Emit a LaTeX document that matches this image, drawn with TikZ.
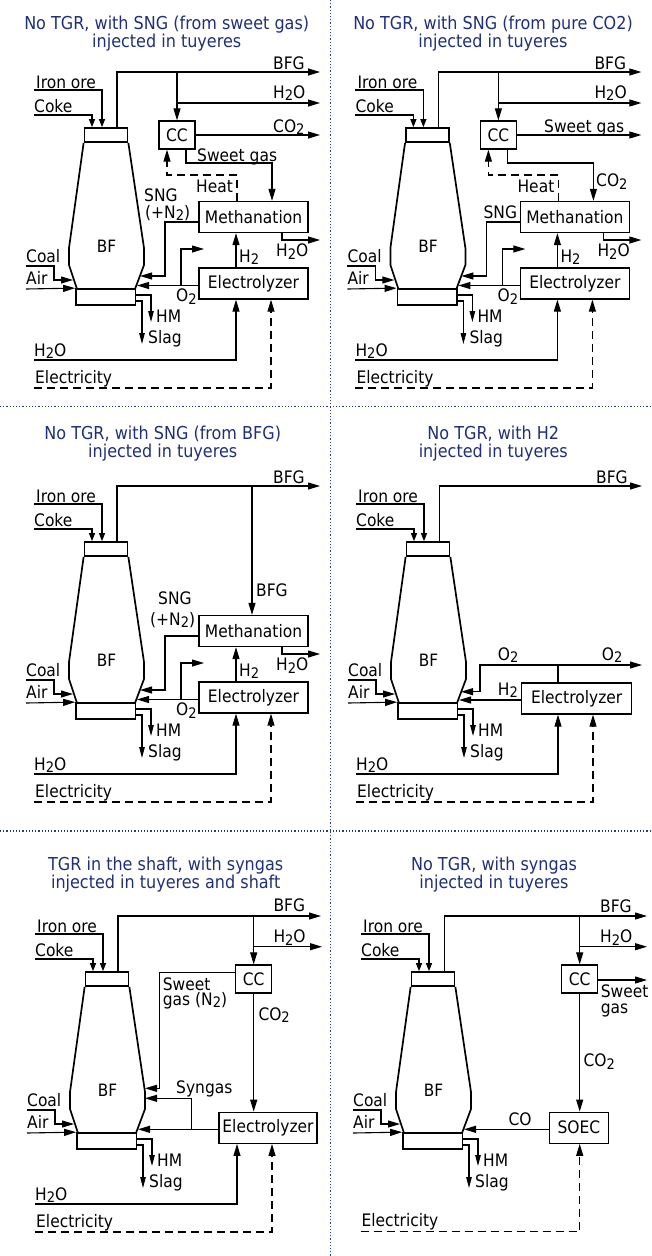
\documentclass[tikz,border=0pt]{standalone}
\usepackage{xcolor}
\usepackage{fontspec}
\setmainfont{DejaVu Sans}[FakeStretch=0.9]
\usetikzlibrary{arrows.meta}
\definecolor{titleblue}{HTML}{1F2F78}
\definecolor{dotblue}{HTML}{2A3A8C}
\tikzset{
    lbl/.style={anchor=base west, inner sep=0pt, font=\fontsize{17.2}{18}\selectfont},
    paneltitle/.style={align=center, inner sep=0pt, text=titleblue, font=\fontsize{17.8}{18}\selectfont},
    unitbox/.style={draw, line width=1.3pt, inner sep=0pt, font=\fontsize{17.2}{18}\selectfont},
    furnacebox/.style={draw, line width=1.7pt, inner sep=0pt},
    flow/.style={line width=1.1pt, -{Triangle[length=12pt,width=7pt]}},
    feed/.style={line width=1.1pt, -{Triangle[length=8pt,width=6pt]}},
    drop/.style={line width=1.1pt, -{Triangle[length=11pt,width=5.5pt]}},
    elecflow/.style={flow, dash pattern=on 8pt off 5pt},
    divider/.style={dotblue, line width=1.2pt, dotted}
}
\newcommand{\subtwo}{\raisebox{-2.5pt}{\fontsize{14.5}{14.5}\selectfont 2}}
\newcommand{\furnace}{%
    \node[furnacebox, minimum width=43pt, minimum height=14pt] (topbox) at (106,135) {};
    \node[furnacebox, minimum width=59.5pt, minimum height=16pt] (hearth) at (105.75,297) {};
    \draw[line width=1.7pt] (topbox.south west) -- (69,248) -- (69,265) -- (77,289);
    \draw[line width=1.7pt] (topbox.south east) -- (144,248) -- (144,265) -- (135,289);
    \node[font=\fontsize{17}{18}\selectfont, inner sep=0pt] (bf) at (106.5,246) {BF};
    \coordinate (orein) at (34,90);
    \coordinate (cokein) at (34,115);
    \coordinate (coalin) at (26,266);
    \coordinate (airin) at (26,289);
    \coordinate (hmout) at (151,322);
    \coordinate (slagout) at (142,344);
    \node[lbl] (orelbl) at (36,88) {Iron ore};
    \node[lbl] (cokelbl) at (34,112) {Coke};
    \node[lbl] (coallbl) at (26,262) {Coal};
    \node[lbl] (airlbl) at (26,284) {Air};
    \node[lbl] (hmlbl) at (156,322.5) {HM};
    \node[lbl] (slaglbl) at (148,343) {Slag};
    \draw[feed] (orein) -| (topbox.north -| 102,0);
    \draw[feed] (cokein) -| (topbox.north -| 92,0);
    \draw[flow] (coalin) -- (54,266) |- (73,280);
    \draw[flow] (airin) -- (hearth.north west);
    \draw[drop] ([yshift=2pt]hearth.east) -| (hmout);
    \draw[drop] ([yshift=-4pt]hearth.east) -| (slagout);
}
\newcommand{\elyfeed}{%
    \coordinate (waterin) at (34,360);
    \coordinate (powerin) at (34,388);
    \node[lbl] (waterlbl) at (34,356) {H\subtwo O};
    \node[lbl] (powerlbl) at (35,383) {Electricity};
    \draw[flow] (waterin) -| (ely.south -| 236,0);
    \draw[elecflow] (powerin) -| (ely.south -| 271,0);
}
\newcommand{\methane}{%
    \node[unitbox, minimum width=109pt, minimum height=31pt] (ely) at (253.5,283.5) {Electrolyzer};
    \node[unitbox, minimum width=109pt, minimum height=31pt] (meth) at (253.5,217) {Methanation};
    \coordinate (o2end) at (204,249);
    \coordinate (wetout) at (320,240);
    \node[lbl] (wetlbl) at (276,256.5) {H\subtwo O};
    \node[lbl] (h2lbl) at (239,262) {H\subtwo};
    \node[lbl] (o2lbl) at (176,301.5) {O\subtwo};
    \draw[flow] (ely.west |- 0,285.5) -- (137,285.5);
    \draw[flow] (181,285.5) |- (o2end);
    \draw[flow] (ely.north -| 236,0) -- (meth.south -| 236,0);
    \draw[flow] (meth.south -| 282,0) |- (wetout);
    \draw[flow] (meth.west |- 0,222) -| (165,276) -- (140,276);
}
\begin{document}
\begin{tikzpicture}[x=1pt, y=-1pt]
    \useasboundingbox (0,0) rectangle (651,1256);
    \coordinate (vtop) at (330.5,0);
    \coordinate (vbot) at (330.5,1256);
    \coordinate (h1a) at (0,406.5);
    \coordinate (h1b) at (651,406.5);
    \coordinate (h2a) at (0,831);
    \coordinate (h2b) at (651,831);
    \draw[divider] (vtop) -- (vbot);
    \draw[divider] (h1a) -- (h1b);
    \draw[divider] (h2a) -- (h2b);
    \node[paneltitle] (title1) at (166.7,34) {No TGR, with SNG (from sweet gas)\\injected in tuyeres};
    \node[paneltitle] (title2) at (493,34) {No TGR, with SNG (from pure CO2)\\injected in tuyeres};
    \node[paneltitle] (title3) at (162.7,444) {No TGR, with SNG (from BFG)\\injected in tuyeres};
    \node[paneltitle] (title4) at (493.3,444) {No TGR, with H2\\injected in tuyeres};
    \node[paneltitle] (title5) at (165.7,875) {TGR in the shaft, with syngas\\injected in tuyeres and shaft};
    \node[paneltitle] (title6) at (494,875) {No TGR, with syngas\\injected in tuyeres};

    \begin{scope}[name prefix=a-]
        \furnace
        \methane
        \elyfeed
        \node[unitbox, minimum width=36pt, minimum height=28pt] (cc) at (177,135) {CC};
        \coordinate (bfgout) at (320,72);
        \coordinate (waterout) at (320,103);
        \coordinate (co2out) at (320,135);
        \node[lbl] (bfglbl) at (273,69) {BFG};
        \node[lbl] (waterlbl2) at (273,98) {H\subtwo O};
        \node[lbl] (co2lbl) at (273,132) {CO\subtwo};
        \node[lbl] (sweetlbl) at (197,161) {Sweet gas};
        \node[lbl] (heatlbl) at (196,192.5) {Heat};
        \node[lbl] (snglbl) at (144,201) {SNG};
        \node[lbl] (n2lbl) at (145,218) {(+N\subtwo)};
        \draw[flow] (topbox.north -| 117,0) |- (bfgout);
        \draw[flow] (177,72) -- (cc.north);
        \draw[flow] (177,103) -- (waterout);
        \draw[flow] (cc.east) -- (co2out);
        \draw[flow] (cc.south -| 186,0) |- (272,163) -- (meth.north -| 272,0);
        \draw[elecflow] (meth.north -| 237,0) |- (167,175) -- (cc.south -| 167,0);
    \end{scope}

    \begin{scope}[shift={(321.4,0)}, name prefix=b-]
        \furnace
        \methane
        \elyfeed
        \node[unitbox, minimum width=36pt, minimum height=28pt] (cc) at (177,135) {CC};
        \coordinate (bfgout) at (320,72);
        \coordinate (waterout) at (320,103);
        \coordinate (sweetout) at (320,135);
        \node[lbl] (bfglbl) at (273,69) {BFG};
        \node[lbl] (waterlbl2) at (273,98) {H\subtwo O};
        \node[lbl] (sweetlbl) at (222.6,132) {Sweet gas};
        \node[lbl] (co2lbl) at (274.6,186.7) {CO\subtwo};
        \node[lbl] (heatlbl) at (196,192.5) {Heat};
        \node[lbl] (snglbl) at (162,218) {SNG};
        \draw[flow] (topbox.north -| 117,0) |- (bfgout);
        \draw[flow] (177,72) -- (cc.north);
        \draw[flow] (177,103) -- (waterout);
        \draw[flow] (cc.east) -- (sweetout);
        \draw[flow] (cc.south -| 186,0) |- (272,163) -- (meth.north -| 272,0);
        \draw[elecflow] (meth.north -| 237,0) |- (167,175) -- (cc.south -| 167,0);
    \end{scope}

    \begin{scope}[shift={(0,414)}, name prefix=c-]
        \furnace
        \methane
        \elyfeed
        \coordinate (bfgout) at (320,72);
        \node[lbl] (bfglbl) at (273,69) {BFG};
        \node[lbl] (bfglbl2) at (256,182.7) {BFG};
        \node[lbl] (snglbl) at (158,190) {SNG};
        \node[lbl] (n2lbl) at (150,211) {(+N\subtwo)};
        \draw[flow] (topbox.north -| 117,0) |- (bfgout);
        \draw[flow] (252,72) -- (meth.north -| 252,0);
    \end{scope}

    \begin{scope}[shift={(322,414)}, name prefix=d-]
        \furnace
        \node[unitbox, minimum width=110pt, minimum height=31pt] (ely) at (254.7,284.5) {Electrolyzer};
        \elyfeed
        \coordinate (bfgout) at (320,72);
        \coordinate (o2out) at (320,251);
        \node[lbl] (bfglbl) at (274,69) {BFG};
        \node[lbl] (o2lbl) at (175.7,246) {O\subtwo};
        \node[lbl] (o2lbl2) at (279.7,246) {O\subtwo};
        \node[lbl] (h2lbl) at (175.7,281) {H\subtwo};
        \draw[flow] (topbox.north -| 117.3,0) |- (bfgout);
        \draw[flow] (ely.north -| 236,0) |- (o2out);
        \draw[flow] (236,251) -- (158,251) |- (139,277.7);
        \draw[flow] (ely.west |- 0,286) -- (137,286);
    \end{scope}

    \begin{scope}[shift={(1,844)}, name prefix=e-]
        \furnace
        \node[unitbox, minimum width=98pt, minimum height=31pt] (ely) at (267,283.8) {Electrolyzer};
        \elyfeed
        \node[unitbox, minimum width=36pt, minimum height=28pt] (cc) at (252.7,135) {CC};
        \coordinate (bfgout) at (320,72);
        \coordinate (waterout) at (321,102.7);
        \node[lbl] (bfglbl) at (272.3,67.7) {BFG};
        \node[lbl] (waterlbl2) at (272.3,98.7) {H\subtwo O};
        \node[lbl] (sweetlbl) at (161.7,146.7) {Sweet};
        \node[lbl] (gaslbl) at (161.7,161) {gas (N\subtwo)};
        \node[lbl] (co2lbl) at (257.3,176) {CO\subtwo};
        \node[lbl] (synlbl) at (175,249.3) {Syngas};
        \draw[flow] (topbox.north -| 117,0) |- (bfgout);
        \draw[flow] (252.7,72) -- (cc.north);
        \draw[flow] (252.7,102.7) -- (waterout);
        \draw[flow] (cc.west |- 0,128.7) -| (158.3,244.3) -- (144,244.3);
        \draw[flow] (cc.south) -- (ely.north -| 252.7,0);
        \draw[flow] (ely.west |- 0,285.3) -- (137,285.3);
        \draw[flow] (190.7,285.3) |- (144,254.3);
    \end{scope}

    \begin{scope}[shift={(327,844)}, name prefix=f-]
        \furnace
        \node[unitbox, minimum width=36pt, minimum height=28pt] (cc) at (252.7,135) {CC};
        \node[unitbox, minimum width=59pt, minimum height=31pt] (soec) at (251.8,283.7) {SOEC};
        \coordinate (bfgout) at (320,72);
        \coordinate (waterout) at (320,102.7);
        \coordinate (sweetout) at (320,136);
        \coordinate (powerin) at (33.7,387.7);
        \node[lbl] (bfglbl) at (273,68) {BFG};
        \node[lbl] (waterlbl2) at (273,98.7) {H\subtwo O};
        \node[lbl] (sweetlbl) at (273.7,153.3) {Sweet};
        \node[lbl] (gaslbl) at (273.7,169) {gas};
        \node[lbl] (co2lbl) at (256.3,222.7) {CO\subtwo};
        \node[lbl] (colbl) at (181.3,281.7) {CO};
        \node[lbl] (powerlbl) at (34.3,382) {Electricity};
        \draw[flow] (topbox.north -| 117.3,0) |- (bfgout);
        \draw[flow] (252.7,72) -- (cc.north);
        \draw[flow] (252.7,102.7) -- (waterout);
        \draw[flow] (cc.east |- sweetout) -- (sweetout);
        \draw[flow] (cc.south) -- (soec.north -| 252.7,0);
        \draw[flow] (soec.west |- 0,285.3) -- (137,285.3);
        \draw[elecflow] (powerin) -| (soec.south -| 252.7,0);
    \end{scope}
\end{tikzpicture}
\end{document}
